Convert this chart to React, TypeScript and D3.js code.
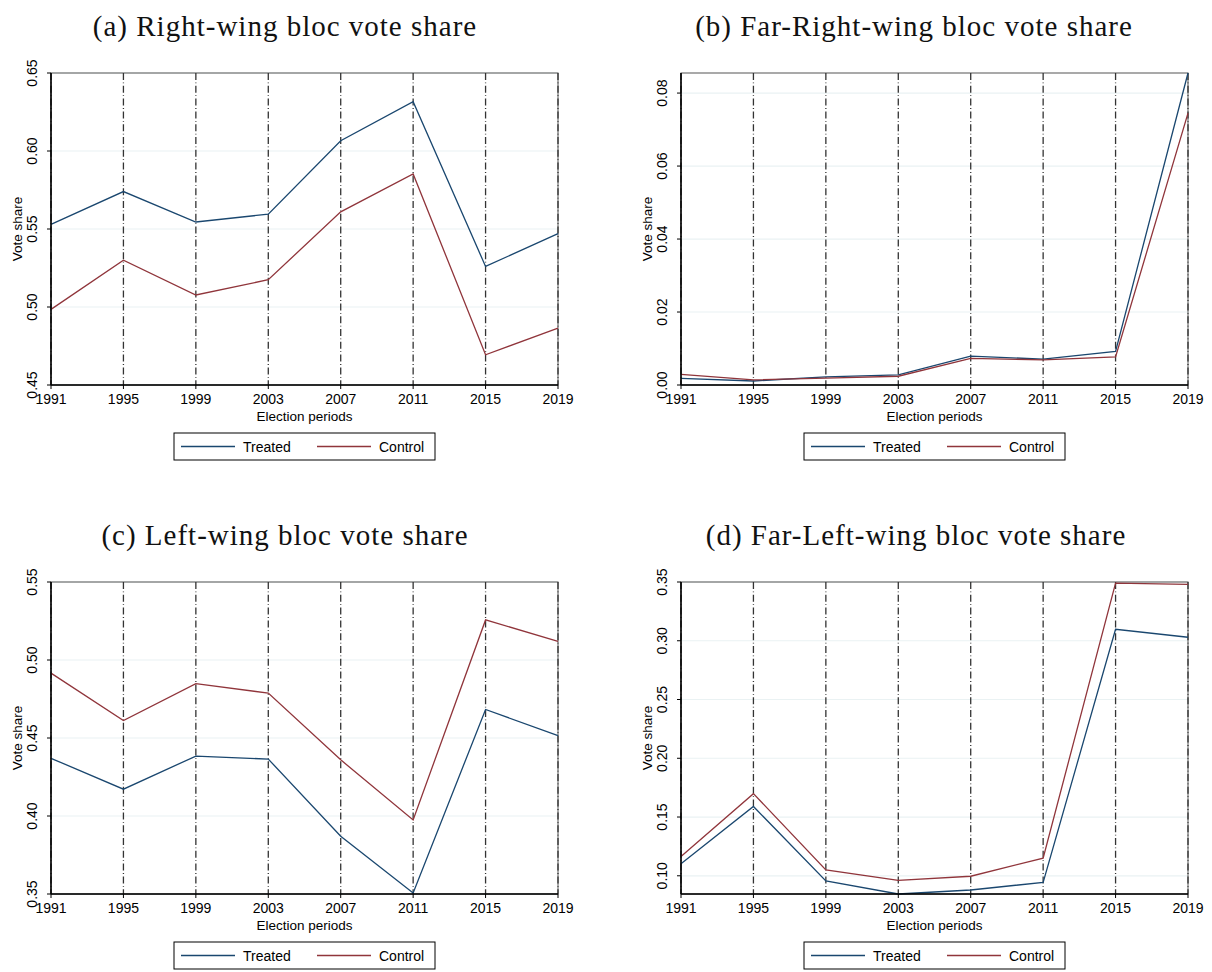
import React from "react";
import * as d3 from "d3";

// Election years shared by every panel
const years = [1991, 1995, 1999, 2003, 2007, 2011, 2015, 2019];

// (a) Right-wing bloc
const rightTreated = [0.553, 0.574, 0.5545, 0.5595, 0.6066, 0.6316, 0.526, 0.547];
const rightControl = [0.4985, 0.530, 0.5077, 0.5175, 0.561, 0.5853, 0.4694, 0.4865];

// (b) Far-right bloc
const farRightTreated = [0.0018, 0.0011, 0.0022, 0.0028, 0.0079, 0.0071, 0.0092, 0.0855];
const farRightControl = [0.0029, 0.0014, 0.0019, 0.0024, 0.0073, 0.0069, 0.0077, 0.0745];

// (c) Left-wing bloc
const leftTreated = [0.437, 0.4172, 0.4384, 0.4365, 0.387, 0.3507, 0.4683, 0.4515];
const leftControl = [0.4916, 0.4612, 0.4848, 0.4788, 0.436, 0.3975, 0.5257, 0.512];

// (d) Far-left bloc
const farLeftTreated = [0.1103, 0.159, 0.0956, 0.0845, 0.0879, 0.0944, 0.3098, 0.303];
const farLeftControl = [0.1164, 0.1699, 0.105, 0.0961, 0.0996, 0.115, 0.3491, 0.348];

// Y-axis ranges and tick values
const rightDomain = [0.45, 0.65];
const rightTicks = [0.45, 0.5, 0.55, 0.6, 0.65];
const farRightDomain = [0, 0.0855];
const farRightTicks = [0, 0.02, 0.04, 0.06, 0.08];
const leftDomain = [0.35, 0.55];
const leftTicks = [0.35, 0.4, 0.45, 0.5, 0.55];
const farLeftDomain = [0.0845, 0.35];
const farLeftTicks = [0.1, 0.15, 0.2, 0.25, 0.3, 0.35];

const titles = [
  "(a) Right-wing bloc vote share",
  "(b) Far-Right-wing bloc vote share",
  "(c) Left-wing bloc vote share",
  "(d) Far-Left-wing bloc vote share",
];

const seriesNames = ["Treated", "Control"];
const NAVY = "#1a476f";
const MAROON = "#90353b";
const SANS = "Liberation Sans, Arial, Helvetica, sans-serif";
const SERIF = "Liberation Serif, Times New Roman, serif";

type PanelProps = {
  ox: number; // left of plot region
  oy: number; // top of plot region
  title: string;
  titleX: number;
  treated: number[];
  control: number[];
  domain: number[];
  ticks: number[];
};

const PW = 507;
const PH = 312;

function Panel({ ox, oy, title, titleX, treated, control, domain, ticks }: PanelProps) {
  const x = d3.scalePoint<number>().domain(years).range([ox, ox + PW]);
  const y = d3.scaleLinear().domain(domain).range([oy + PH, oy]);
  const line = d3
    .line<number>()
    .x((_, i) => x(years[i]) as number)
    .y((v) => y(v));
  const fmt = d3.format(".2f");
  const bottom = oy + PH;
  const cx = ox + PW / 2;
  const legY = bottom + 61.5;

  return (
    <g>
      <text
        x={titleX}
        y={oy - 37}
        textAnchor="middle"
        fontFamily={SERIF}
        fontSize={29}
        letterSpacing={1}
        fill="#111"
      >
        {title}
      </text>

      {/* horizontal gridlines */}
      {ticks.map((t) => (
        <line key={"g" + t} x1={ox} x2={ox + PW} y1={y(t)} y2={y(t)} stroke="#eaf2f3" strokeWidth={1.2} />
      ))}

      {/* plot region outline */}
      <rect x={ox} y={oy} width={PW} height={PH} fill="none" stroke="#555" strokeWidth={1} />

      {/* vertical reference lines at every election */}
      {years.map((yr) => (
        <line
          key={"v" + yr}
          x1={x(yr)}
          x2={x(yr)}
          y1={oy}
          y2={bottom}
          stroke="#333"
          strokeWidth={1.3}
          strokeDasharray="7 2.5 0.8 2.5"
        />
      ))}

      {/* series */}
      <path d={line(treated) as string} fill="none" stroke={NAVY} strokeWidth={1.3} />
      <path d={line(control) as string} fill="none" stroke={MAROON} strokeWidth={1.3} />

      {/* axes */}
      <line x1={ox} x2={ox} y1={oy} y2={bottom} stroke="#000" strokeWidth={1.5} />
      <line x1={ox} x2={ox + PW} y1={bottom} y2={bottom} stroke="#000" strokeWidth={1.5} />

      {ticks.map((t) => (
        <g key={"t" + t}>
          <line x1={ox - 4} x2={ox} y1={y(t)} y2={y(t)} stroke="#000" strokeWidth={1} />
          <text
            transform={`translate(${ox - 14},${y(t)}) rotate(-90)`}
            textAnchor="middle"
            fontFamily={SANS}
            fontSize={14}
            fill="#000"
          >
            {fmt(t)}
          </text>
        </g>
      ))}
      <text
        transform={`translate(${ox - 29},${oy + PH / 2}) rotate(-90)`}
        textAnchor="middle"
        fontFamily={SANS}
        fontSize={13.5}
        fill="#000"
      >
        Vote share
      </text>

      {years.map((yr) => (
        <g key={"x" + yr}>
          <line x1={x(yr)} x2={x(yr)} y1={bottom} y2={bottom + 4} stroke="#000" strokeWidth={1} />
          <text x={x(yr)} y={bottom + 19} textAnchor="middle" fontFamily={SANS} fontSize={14} fill="#000">
            {yr}
          </text>
        </g>
      ))}
      <text x={cx} y={bottom + 36} textAnchor="middle" fontFamily={SANS} fontSize={13.5} fill="#000">
        Election periods
      </text>

      {/* legend */}
      <rect x={cx - 130.5} y={bottom + 48} width={261} height={27} fill="#fff" stroke="#000" strokeWidth={1} />
      {seriesNames.map((name, i) => {
        const lx = cx - 123.5 + i * 136;
        return (
          <g key={name}>
            <line x1={lx} x2={lx + 54} y1={legY} y2={legY} stroke={i === 0 ? NAVY : MAROON} strokeWidth={1.3} />
            <text x={lx + 62} y={legY + 5} fontFamily={SANS} fontSize={14} fill="#000">
              {name}
            </text>
          </g>
        );
      })}
    </g>
  );
}

export default function App() {
  return (
    <svg width={1212} height={972} style={{ position: "absolute", left: 0, top: 0, background: "#fff" }}>
      <rect width={1212} height={972} fill="#fff" />
      <Panel ox={51} oy={73} title={titles[0]} titleX={285} treated={rightTreated} control={rightControl} domain={rightDomain} ticks={rightTicks} />
      <Panel ox={681} oy={73} title={titles[1]} titleX={914} treated={farRightTreated} control={farRightControl} domain={farRightDomain} ticks={farRightTicks} />
      <Panel ox={51} oy={582} title={titles[2]} titleX={285} treated={leftTreated} control={leftControl} domain={leftDomain} ticks={leftTicks} />
      <Panel ox={681} oy={582} title={titles[3]} titleX={916} treated={farLeftTreated} control={farLeftControl} domain={farLeftDomain} ticks={farLeftTicks} />
    </svg>
  );
}
